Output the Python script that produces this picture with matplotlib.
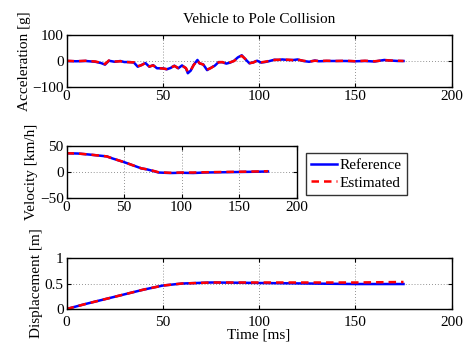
import matplotlib
matplotlib.use("Agg")
import matplotlib.pyplot as plt
from matplotlib.lines import Line2D

plt.rcParams["font.family"] = ["Liberation Serif", "DejaVu Serif"]
plt.rcParams["font.size"] = 11
plt.rcParams["mathtext.fontset"] = "stix"

# Acceleration [g] (reference sensor and estimate)
t_acc = [0, 5, 10, 15, 18, 20, 22, 25, 28, 30, 33, 35, 37, 39, 41, 43, 45, 47,
         50, 52, 54, 56, 58, 60, 62, 63, 64.5, 66, 68, 69, 71, 73, 75, 77, 79,
         81, 83, 85, 87, 89, 91, 93, 95, 97, 99, 101, 103, 105, 108, 110, 112,
         115, 118, 120, 123, 126, 129, 131, 135, 140, 145, 150, 155, 160, 165,
         168, 172, 175]
acc_ref = [0, -1, 0, -3, -8, -14, 1, -3, 0, -4, -4, -6, -22, -15, -8, -22, -16,
           -28, -28, -32, -27, -18, -28, -17, -28, -47, -37, -15, 4, -9, -13,
           -35, -26, -18, -4, -5, -10, -6, 1, 14, 22, 6, -9, -5, 1, -6, -4, -1,
           5, 4, 6, 4, 4, 6, 0, -3, 2, -1, 0, 0, 0, -1, 0, -2, 4, 2, 0, 0]
acc_est = [1, -1, 1, -2, -7, -12, 2, -2, -1, -3, -5, -5, -20, -16, -7, -21, -17,
           -27, -29, -31, -26, -19, -27, -18, -27, -42, -36, -16, 3, -8, -14,
           -33, -27, -17, -5, -4, -11, -5, 0, 12, 20, 7, -8, -6, 2, -5, -3, 0,
           4, 5, 5, 5, 3, 5, 1, -2, 1, 0, 1, 0, 1, -1, 1, -1, 3, 2, 1, 0]

# Velocity [km/h]
t_vel = [0, 10, 20, 35, 40, 50, 60, 65, 70, 75, 80, 90, 100, 110, 120, 135,
         150, 165, 175]
vel_ref = [36, 35.5, 33.5, 30, 26, 19, 11, 7, 5, 2, -1, -2, -1.5, -2, -1,
           -0.5, 0, 0.5, 1]
vel_est = [36, 35.5, 33.5, 30, 26, 19, 11, 7, 5, 2.5, -0.5, -1.5, -1, -1, -0.5,
           0, 0.5, 1, 1.5]

# Displacement [m]
t_dis = [0, 10, 25, 40, 50, 60, 75, 90, 100, 125, 150, 175]
dis_ref = [0, 0.10, 0.24, 0.38, 0.46, 0.50, 0.52, 0.515, 0.51, 0.50, 0.49, 0.49]
dis_est = [0, 0.10, 0.24, 0.38, 0.46, 0.50, 0.52, 0.52, 0.52, 0.52, 0.52, 0.53]

xticks = [0, 50, 100, 150, 200]

fig = plt.figure(figsize=(4.68, 3.5), dpi=100)

ax1 = fig.add_axes([0.1421, 0.7514, 0.823, 0.1486])
ax2 = fig.add_axes([0.1421, 0.4343, 0.4919, 0.1486])
ax3 = fig.add_axes([0.1421, 0.1171, 0.823, 0.1457])


def style(ax, yticks, ylim):
    ax.set_xlim(0, 200)
    ax.set_ylim(*ylim)
    ax.set_xticks(xticks)
    ax.set_yticks(yticks)
    ax.tick_params(direction="in", top=True, right=True, length=3,
                   width=0.8, labelsize=11, pad=2)
    ax.grid(True, linestyle=(0, (1, 2.5)), color="#707070", linewidth=0.6)
    for s in ax.spines.values():
        s.set_linewidth(1.0)


def draw(ax, t, ref, est):
    ax.plot(t, ref, color="blue", linewidth=1.8, solid_joinstyle="round")
    ax.plot(t, est, color="red", linewidth=1.8, linestyle=(0, (3, 2)))


draw(ax1, t_acc, acc_ref, acc_est)
style(ax1, [-100, 0, 100], (-100, 100))
ax1.set_yticklabels(["\u2212100", "0", "100"])
ax1.set_ylabel("Acceleration [g]", labelpad=1)
ax1.set_title("Vehicle to Pole Collision", fontsize=11, pad=9)

draw(ax2, t_vel, vel_ref, vel_est)
style(ax2, [-50, 0, 50], (-50, 50))
ax2.set_yticklabels(["\u221250", "0", "50"])
ax2.set_ylabel("Velocity [km/h]", labelpad=1)

draw(ax3, t_dis, dis_ref, dis_est)
style(ax3, [0, 0.5, 1], (0, 1))
ax3.tick_params(axis="x", pad=5)
ax3.set_yticklabels(["0", "0.5", "1"])
ax3.set_ylabel("Displacement [m]", labelpad=1)
ax3.set_xlabel("Time [ms]", labelpad=0)

handles = [Line2D([], [], color="blue", linewidth=1.8),
           Line2D([], [], color="red", linewidth=1.8, linestyle=(0, (3, 2)))]
leg = fig.legend(handles, ["Reference", "Estimated"],
                 loc="upper left", bbox_to_anchor=(0.653, 0.563),
                 frameon=True, fancybox=False, fontsize=11,
                 handlelength=1.7, handletextpad=0.15, borderpad=0.35,
                 labelspacing=0.25, borderaxespad=0.0)
leg.get_frame().set_edgecolor("black")
leg.get_frame().set_linewidth(1.0)

fig.savefig("out.png", dpi=100)
